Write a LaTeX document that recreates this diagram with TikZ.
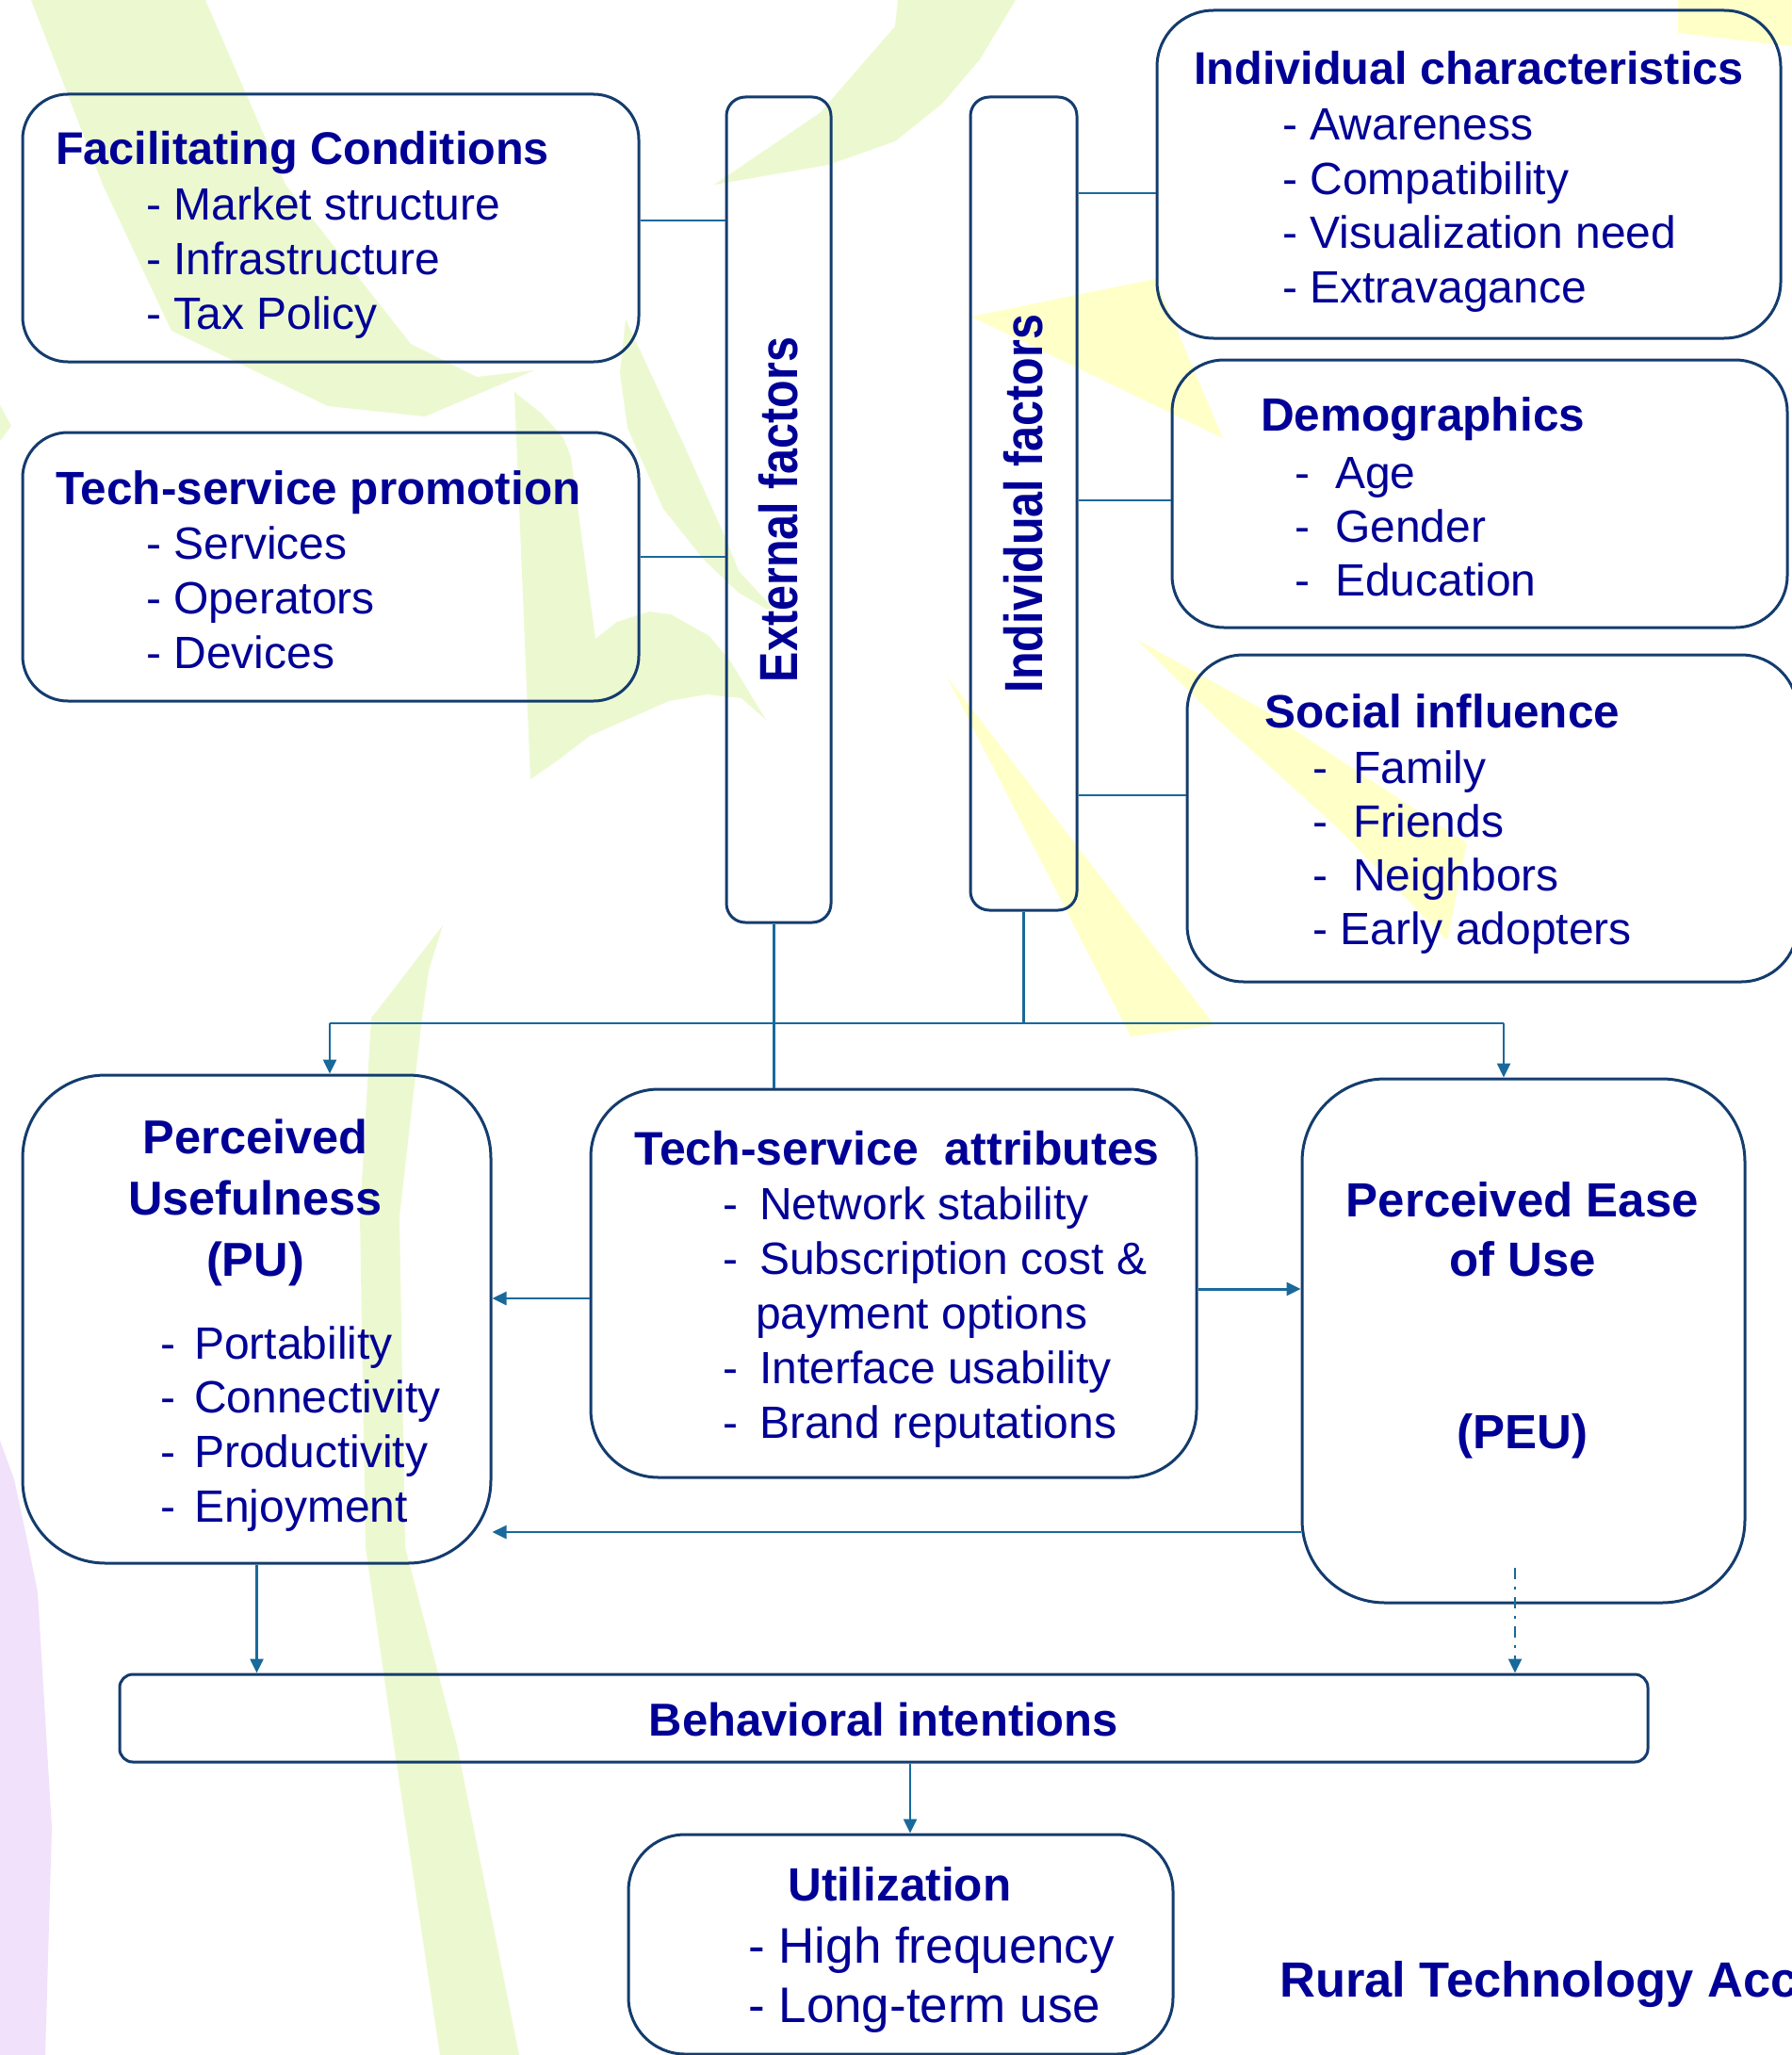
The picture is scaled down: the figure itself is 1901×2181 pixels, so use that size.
\documentclass[tikz,border=0pt]{standalone}
\usepackage{fontspec}
\setmainfont{Liberation Sans}
\newfontfamily\narrowsans[FakeStretch=0.85]{Liberation Sans}
\usepackage{tikz}
\usetikzlibrary{arrows.meta}
\definecolor{inkblue}{RGB}{0, 0, 150}
\definecolor{rimblue}{RGB}{20, 60, 110}
\definecolor{wireblue}{RGB}{25, 105, 155}
\definecolor{leafgreen}{RGB}{236, 249, 208}
\definecolor{leafyellow}{RGB}{255, 255, 200}
\definecolor{lilac}{RGB}{241, 225, 250}

\tikzset{
    box/.style={draw=rimblue, line width=3pt, inner sep=0pt},
    head/.style={inkblue, inner sep=0pt, font=\fontsize{49.5}{58}\selectfont\bfseries},
    list/.style={inkblue, inner sep=0pt, font=\fontsize{48}{58}\selectfont},
    sidelabel/.style={inkblue, inner sep=0pt, rotate=90, font=\narrowsans\fontsize{57}{60}\selectfont\bfseries},
    wire/.style={draw=wireblue, line width=2.5pt},
}
% lines stacked so that the node's base is the first baseline
\newcommand{\textrows}[2][l]{\begin{tabular}[t]{@{}#1@{}}#2\end{tabular}}
\newcommand{\dashitem}[2]{\makebox[#1][l]{-}#2}

\begin{document}
\begin{tikzpicture}[x=1pt, y=-1pt, >={Triangle[length=15pt, width=14pt]}]
    \useasboundingbox (0,0) rectangle (1901,2181);
    \fill[white] (0,0) rectangle (1901,2181);

    % leaves behind the chart
    \fill[leafgreen] (33,0) -- (218,0) -- (303,196) -- (436,365) -- (506,400) -- (567,393) -- (451,442) -- (348,431) -- (182,351) -- (109,196) -- cycle;
    \fill[leafgreen] (0,430) -- (12,452) -- (0,468) -- cycle;
    \fill[leafgreen] (953,0) -- (1078,0) -- (1040,63) -- (1000,110) -- (950,150) -- (879,175) -- (758,196) -- (870,120) -- (950,28) -- cycle;
    \fill[leafgreen] (546,416) -- (575,439) -- (598,465) -- (606,485) -- (632,678) -- (655,660) -- (689,649) -- (712,652) -- (753,675) -- (776,703) -- (813,764) -- (787,741) -- (750,737) -- (710,744) -- (626,781) -- (592,807) -- (563,827) -- cycle;
    \fill[leafgreen] (664,339) -- (672,356) -- (724,468) -- (770,571) -- (784,606) -- (821,646) -- (813,646) -- (784,629) -- (747,594) -- (704,540) -- (666,454) -- (658,396) -- cycle;
    \fill[leafgreen] (470,982) -- (455,1030) -- (448,1080) -- (424,1291) -- (430,1642) -- (485,1852) -- (551,2181) -- (467,2181) -- (418,1852) -- (388,1642) -- (382,1291) -- (394,1080) -- (400,1073) -- cycle;
    \fill[leafyellow] (1031,336) -- (1226,296) -- (1298,465) -- cycle;
    \fill[leafyellow] (1005,718) -- (1289,1088) -- (1200,1100) -- cycle;
    \fill[leafyellow] (1207,679) -- (1342,754) -- (1557,895) -- (1536,998) -- (1418,877) -- (1294,765) -- cycle;
    \fill[leafyellow] (1781,0) -- (1901,0) -- (1901,49) -- (1781,35) -- cycle;
    \fill[lilac] (0,1529) -- (15,1570) -- (30,1640) -- (40,1690) -- (55,1940) -- (48,2181) -- (0,2181) -- cycle;

    % frames
    \node[box, minimum width=654pt, minimum height=284pt, rounded corners=48pt] (fc) at (351,242) {};
    \node[box, minimum width=654pt, minimum height=285pt, rounded corners=48pt] (tsp) at (351,601.5) {};
    \node[box, minimum width=111pt, minimum height=876pt, rounded corners=20pt] (extf) at (826.5,541) {};
    \node[box, minimum width=113pt, minimum height=863pt, rounded corners=20pt] (indf) at (1086.5,534.5) {};
    \node[box, minimum width=662pt, minimum height=348pt, rounded corners=60pt] (ic) at (1559,185) {};
    \node[box, minimum width=653pt, minimum height=284pt, rounded corners=55pt] (demo) at (1570.5,524) {};
    \node[box, minimum width=648pt, minimum height=347pt, rounded corners=60pt] (soc) at (1584,868.5) {};
    \node[box, minimum width=497pt, minimum height=518pt, rounded corners=88pt] (pu) at (272.5,1400) {};
    \node[box, minimum width=643pt, minimum height=412pt, rounded corners=72pt] (tsa) at (948.5,1362) {};
    \node[box, minimum width=470pt, minimum height=556pt, rounded corners=88pt] (peu) at (1617,1423) {};
    \node[box, minimum width=1622pt, minimum height=93pt, rounded corners=14pt] (bi) at (938,1823.5) {};
    \node[box, minimum width=578pt, minimum height=233pt, rounded corners=60pt] (util) at (956,2063.5) {};

    % texts
    \node[head, anchor=base west, font=\fontsize{48.6}{58}\selectfont\bfseries] (fchead) at (59,174) {Facilitating Conditions};
    \node[list, anchor=base west] (fclist) at (155,233) {\textrows{- Market structure\\- Infrastructure\\- Tax Policy}};
    \node[head, anchor=base west] (tsphead) at (59,535) {Tech-service promotion};
    \node[list, anchor=base west] (tsplist) at (155,593) {\textrows{- Services\\- Operators\\- Devices}};
    \node[sidelabel] (extlabel) at (extf.center) {External factors};
    \node[sidelabel] (indlabel) at (indf.center) {Individual factors};
    \node[head, anchor=base west, font=\fontsize{48.6}{58}\selectfont\bfseries] (ichead) at (1267,90) {Individual characteristics};
    \node[list, anchor=base west, font=\fontsize{48}{57.5}\selectfont] (iclist) at (1361,149) {\textrows{- Awareness\\- Compatibility\\- Visualization need\\- Extravagance}};
    \node[head, anchor=base west] (demohead) at (1338,457) {Demographics};
    \node[list, anchor=base west, font=\fontsize{48}{57}\selectfont] (demolist) at (1374,518) {\textrows{\dashitem{43pt}{Age}\\\dashitem{43pt}{Gender}\\\dashitem{43pt}{Education}}};
    \node[head, anchor=base west] (sochead) at (1342,772) {Social influence};
    \node[list, anchor=base west, font=\fontsize{48}{57}\selectfont] (soclist) at (1393,831) {\textrows{\dashitem{43pt}{Family}\\\dashitem{43pt}{Friends}\\\dashitem{43pt}{Neighbors}\\- Early adopters}};
    \node[head, anchor=base, font=\fontsize{50.5}{65}\selectfont\bfseries] (puhead) at (271,1224) {\textrows[c]{Perceived\\Usefulness\\(PU)}};
    \node[list, anchor=base west, font=\fontsize{48}{57.7}\selectfont] (pulist) at (170,1442) {\textrows{\dashitem{36pt}{Portability}\\\dashitem{36pt}{Connectivity}\\\dashitem{36pt}{Productivity}\\\dashitem{36pt}{Enjoyment}}};
    \node[head, anchor=base west, font=\fontsize{50}{58}\selectfont\bfseries] (tsahead) at (673,1236) {Tech-service\ \ attributes};
    \node[list, anchor=base west] (tsalist) at (767,1294) {\textrows{\dashitem{39pt}{Network stability}\\\dashitem{39pt}{Subscription cost \&}\\\hspace*{35pt}payment options\\\dashitem{39pt}{Interface usability}\\\dashitem{39pt}{Brand reputations}}};
    \node[head, anchor=base, font=\fontsize{51}{63}\selectfont\bfseries] (peuhead) at (1616,1291) {\textrows[c]{Perceived Ease\\of Use}};
    \node[head, anchor=base, font=\fontsize{51}{63}\selectfont\bfseries] (peuabbr) at (1616,1537) {(PEU)};
    \node[head, anchor=base, font=\fontsize{49}{58}\selectfont\bfseries] (bihead) at (938,1842) {Behavioral intentions};
    \node[head, anchor=base] (utilhead) at (955,2017) {Utilization};
    \node[list, anchor=base west, font=\fontsize{53}{63}\selectfont] (utillist) at (794,2083) {\textrows{- High frequency\\- Long-term use}};
    \node[head, anchor=base west, font=\fontsize{52.5}{58}\selectfont\bfseries] (rtam) at (1358,2119) {Rural Technology Acc};

    % connectors
    \coordinate (busL) at (350,1086);
    \coordinate (busR) at (1596,1086);
    \coordinate (extdrop) at ([xshift=-5pt]extf.south);
    \coordinate (peudrop) at ([xshift=-9pt, yshift=39pt]peu.south);
    \coordinate (bidrop) at ([xshift=28pt]bi.south);
    \draw[wire] (fc.east |- 0,234) -- (extf.west |- 0,234);
    \draw[wire] (tsp.east |- 0,591) -- (extf.west |- 0,591);
    \draw[wire] (indf.east |- 0,205) -- (ic.west |- 0,205);
    \draw[wire] (indf.east |- 0,531) -- (demo.west |- 0,531);
    \draw[wire] (indf.east |- 0,844) -- (soc.west |- 0,844);
    \draw[wire] (extdrop) -- (extdrop |- tsa.north);
    \draw[wire] (indf.south) -- (indf.south |- busL);
    \draw[wire] (busL) -- (busR);
    \draw[wire, ->] (busL) -- (busL |- pu.north);
    \draw[wire, ->] (busR) -- (busR |- peu.north);
    \draw[wire, ->] (tsa.west |- 0,1378) -- (pu.east |- 0,1378);
    \draw[wire, line width=3pt, ->] (tsa.east |- 0,1368) -- (peu.west |- 0,1368);
    \draw[wire, ->] (peu.west |- 0,1626) -- (pu.east |- 0,1626);
    \draw[wire, ->] (pu.south) -- (pu.south |- bi.north);
    \draw[wire, dash pattern=on 12pt off 8pt on 3pt off 8pt, ->] (peudrop) -- (peudrop |- bi.north);
    \draw[wire, ->] (bidrop) -- (bidrop |- util.north);
\end{tikzpicture}
\end{document}
